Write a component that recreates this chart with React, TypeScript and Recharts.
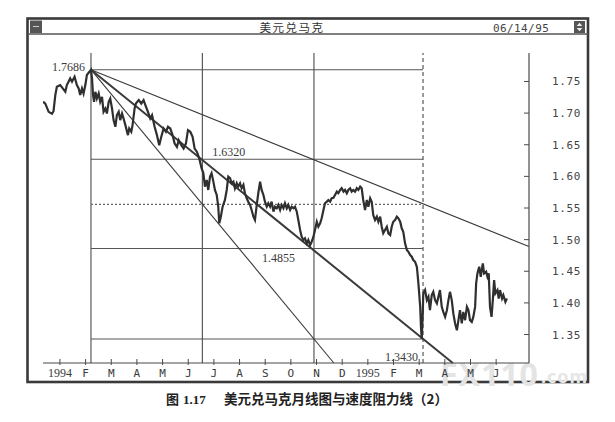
import React from 'react';
import { ComposedChart, Line, XAxis, YAxis, ReferenceLine, ReferenceDot } from 'recharts';

// x values are months counted from January 1994 (0 = Jan 1994, 12 = Jan 1995)
const MONTH_TICKS = [0, 1, 2, 3, 4, 5, 6, 7, 8, 9, 10, 11, 12, 13, 14, 15, 16, 17];
const MONTH_LABELS = ['1994', 'F', 'M', 'A', 'M', 'J', 'J', 'A', 'S', 'O', 'N', 'D', '1995', 'F', 'M', 'A', 'M', 'J'];
const RATE_TICKS = [1.35, 1.4, 1.45, 1.5, 1.55, 1.6, 1.65, 1.7, 1.75];
const X_DOMAIN: [number, number] = [-0.66, 18.28];
const Y_DOMAIN: [number, number] = [1.305, 1.795];

// USD/DEM daily trace [month, rate]
const DMK: [number, number][] = [
  [-0.66, 1.718], [-0.57, 1.715], [-0.44, 1.702], [-0.31, 1.699], [-0.25, 1.703], [-0.18, 1.7285],
  [-0.12, 1.7416], [0.01, 1.7443], [0.11, 1.739], [0.21, 1.7337], [0.27, 1.7443], [0.4, 1.7548],
  [0.47, 1.7496], [0.57, 1.7575], [0.66, 1.7443], [0.73, 1.739], [0.79, 1.7285], [0.86, 1.739],
  [0.92, 1.731], [0.99, 1.7443], [1.05, 1.7602], [1.21, 1.7686], [1.25, 1.7548], [1.29, 1.7285],
  [1.33, 1.7179], [1.38, 1.7337], [1.44, 1.7231], [1.51, 1.731], [1.57, 1.7179], [1.64, 1.7258],
  [1.7, 1.702], [1.77, 1.7073], [1.83, 1.6994], [1.9, 1.7179], [1.96, 1.7231], [2.03, 1.7073],
  [2.09, 1.6889], [2.16, 1.6783], [2.22, 1.6968], [2.29, 1.702], [2.35, 1.6889], [2.42, 1.6994],
  [2.48, 1.6914], [2.55, 1.681], [2.65, 1.6652], [2.7, 1.6756], [2.78, 1.6704], [2.83, 1.681],
  [2.91, 1.7073], [2.96, 1.7152], [3.07, 1.7206], [3.17, 1.7152], [3.26, 1.7206], [3.33, 1.7127],
  [3.43, 1.702], [3.52, 1.6914], [3.59, 1.6968], [3.69, 1.6783], [3.78, 1.6652], [3.87, 1.6493],
  [3.95, 1.6625], [4.04, 1.6756], [4.13, 1.6704], [4.21, 1.6783], [4.3, 1.6756], [4.39, 1.6652],
  [4.47, 1.6519], [4.56, 1.6466], [4.63, 1.6572], [4.73, 1.6493], [4.82, 1.6439], [4.91, 1.6519],
  [4.99, 1.6731], [5.08, 1.6704], [5.17, 1.6625], [5.25, 1.6439], [5.34, 1.6387], [5.43, 1.6281],
  [5.52, 1.6129], [5.59, 1.605], [5.65, 1.5838], [5.72, 1.5944], [5.78, 1.5785], [5.85, 1.5996],
  [5.91, 1.605], [5.98, 1.5917], [6.04, 1.5785], [6.11, 1.5706], [6.17, 1.5521], [6.21, 1.5258],
  [6.27, 1.5363], [6.34, 1.5521], [6.43, 1.5627], [6.5, 1.5785], [6.56, 1.5996], [6.63, 1.5971],
  [6.69, 1.5891], [6.76, 1.5917], [6.82, 1.5812], [6.89, 1.5891], [6.95, 1.5838], [7.02, 1.5891],
  [7.08, 1.5812], [7.15, 1.5865], [7.21, 1.5733], [7.28, 1.5654], [7.34, 1.56], [7.41, 1.5548],
  [7.47, 1.5469], [7.54, 1.5363], [7.6, 1.531], [7.67, 1.5548], [7.73, 1.5733], [7.8, 1.5917],
  [7.86, 1.5785], [7.93, 1.5706], [7.99, 1.56], [8.06, 1.5521], [8.12, 1.5575], [8.19, 1.5521],
  [8.25, 1.56], [8.32, 1.5442], [8.38, 1.5521], [8.45, 1.5496], [8.51, 1.5548], [8.58, 1.5469],
  [8.64, 1.5548], [8.71, 1.5496], [8.77, 1.5575], [8.84, 1.5496], [8.9, 1.5548], [8.97, 1.5469],
  [9.03, 1.5521], [9.1, 1.5496], [9.16, 1.5521], [9.23, 1.5442], [9.29, 1.531], [9.36, 1.5152],
  [9.42, 1.5046], [9.49, 1.4994], [9.55, 1.502], [9.62, 1.4941], [9.68, 1.4994], [9.75, 1.4914],
  [9.81, 1.4967], [9.88, 1.5046], [9.94, 1.5152], [10.01, 1.5283], [10.07, 1.5204], [10.14, 1.5258],
  [10.2, 1.5337], [10.27, 1.5469], [10.33, 1.5575], [10.4, 1.56], [10.46, 1.5627], [10.53, 1.56],
  [10.59, 1.5654], [10.66, 1.566], [10.72, 1.5706], [10.79, 1.5759], [10.85, 1.5733], [10.92, 1.5785],
  [10.98, 1.5812], [11.05, 1.5759], [11.11, 1.5785], [11.18, 1.5733], [11.24, 1.5785], [11.31, 1.5812],
  [11.37, 1.5759], [11.43, 1.5785], [11.5, 1.5759], [11.57, 1.5812], [11.63, 1.5785], [11.7, 1.5838],
  [11.76, 1.5812], [11.82, 1.5627], [11.89, 1.5469], [11.96, 1.5627], [12.02, 1.5521], [12.09, 1.5654],
  [12.15, 1.56], [12.21, 1.539], [12.28, 1.531], [12.35, 1.5363], [12.41, 1.5283], [12.48, 1.5363],
  [12.54, 1.5204], [12.6, 1.51], [12.67, 1.5152], [12.74, 1.5204], [12.8, 1.51], [12.87, 1.5073],
  [12.93, 1.5204], [12.99, 1.5283], [13.06, 1.531], [13.13, 1.5363], [13.19, 1.5337], [13.26, 1.5283],
  [13.32, 1.5179], [13.38, 1.5125], [13.45, 1.4941], [13.52, 1.4835], [13.58, 1.4808], [13.65, 1.4756],
  [13.71, 1.473], [13.77, 1.4677], [13.84, 1.465], [13.91, 1.4571], [13.97, 1.4308], [14.04, 1.3937],
  [14.07, 1.3621], [14.1, 1.343], [14.14, 1.3833], [14.16, 1.415], [14.23, 1.4202], [14.3, 1.4044],
  [14.36, 1.4096], [14.42, 1.3885], [14.49, 1.4123], [14.55, 1.4175], [14.62, 1.4044], [14.69, 1.3991],
  [14.75, 1.4096], [14.81, 1.4202], [14.88, 1.3937], [14.94, 1.3858], [15.01, 1.3779], [15.08, 1.3885],
  [15.14, 1.4044], [15.2, 1.4175], [15.27, 1.4044], [15.33, 1.3833], [15.4, 1.3675], [15.47, 1.3568],
  [15.53, 1.3727], [15.59, 1.3885], [15.66, 1.3675], [15.72, 1.3858], [15.79, 1.3727], [15.86, 1.3937],
  [15.92, 1.3885], [15.98, 1.3727], [16.05, 1.37], [16.11, 1.3779], [16.18, 1.3937], [16.22, 1.4308],
  [16.27, 1.4466], [16.34, 1.4571], [16.4, 1.4413], [16.48, 1.4625], [16.53, 1.4466], [16.61, 1.4492],
  [16.66, 1.4413], [16.71, 1.4466], [16.76, 1.3937], [16.82, 1.3779], [16.87, 1.4044], [16.92, 1.436],
  [16.97, 1.415], [17.05, 1.4202], [17.1, 1.407], [17.15, 1.4202], [17.23, 1.407], [17.28, 1.4123],
  [17.36, 1.4017], [17.42, 1.407],
];

// speed resistance construction
const HIGH_POINT = { m: 1.21, v: 1.7686 };
const TIME_DIVISIONS = [1.21, 5.55, 9.9, 14.15];
const LEVEL_START = 1.21;
const LEVEL_END = 14.15;
const PRICE_LEVELS = [1.7686, 1.627, 1.5558, 1.486, 1.343];
const SPEED_LINE_ENDS: [number, number][] = [[18.28, 1.489], [15.31, 1.305], [10.675, 1.305]];
const LEVEL_LABEL_POINTS: [number, number][] = [[1.21, 1.7686], [5.55, 1.627], [9.9, 1.486], [14.15, 1.343]];
const LEVEL_LABEL_TEXTS = ['1.7686', '1.6320', '1.4855', '1.3430'];

// styles (kept separate from data)
const LABEL_OFFSETS = [
  { dx: -6, dy: 1, anchor: 'end' },
  { dx: 10, dy: -3, anchor: 'start' },
  { dx: -19, dy: 14, anchor: 'end' },
  { dx: -5, dy: 22, anchor: 'end' },
];
const SPEED_LINE_WIDTHS = [1.1, 2, 1.1];

const MONO = '"DejaVu Sans Mono", "Liberation Mono", monospace';
const SERIF = '"Liberation Serif", "DejaVu Serif", serif';
const CJK = '"Noto Sans CJK SC", "Noto Sans", sans-serif';
const INK = '#3a3a3a';
const LINE = '#4a4a4a';

const priceData = DMK.map(([m, v]) => ({ m, v }));

function BottomTick(props: any) {
  const { x, y, payload } = props;
  const label = MONTH_LABELS[MONTH_TICKS.indexOf(payload.value)] ?? '';
  const isYear = label.length === 4;
  return (
    <g>
      <line x1={x} x2={x} y1={y - 4} y2={y + 2} stroke={LINE} strokeWidth={1} />
      <text
        x={x}
        y={y + 14}
        textAnchor="middle"
        fontFamily={isYear ? SERIF : MONO}
        fontSize={isYear ? 12 : 11}
        fill={INK}
      >
        {label}
      </text>
    </g>
  );
}

function TopTick(props: any) {
  const { x, y } = props;
  return <line x1={x} x2={x} y1={y} y2={y + 4} stroke={LINE} strokeWidth={1} />;
}

function RightTick(props: any) {
  const { x, y, payload } = props;
  return (
    <g>
      <line x1={x - 5} x2={x} y1={y} y2={y} stroke={LINE} strokeWidth={1} />
      <text x={x + 23} y={y + 4} textAnchor="start" fontFamily={MONO} fontSize={11} letterSpacing={0.6} fill="#444">
        {Number(payload.value).toFixed(2)}
      </text>
    </g>
  );
}

function LeftTick(props: any) {
  const { x, y } = props;
  return <line x1={x} x2={x + 5} y1={y} y2={y} stroke={LINE} strokeWidth={1} />;
}

function makeLevelLabel(text: string, off: { dx: number; dy: number; anchor: string }) {
  return (props: any) => {
    const vb = props.viewBox || {};
    const cx = (vb.x ?? 0) + (vb.width ?? 0) / 2;
    const cy = (vb.y ?? 0) + (vb.height ?? 0) / 2;
    return (
      <text x={cx + off.dx} y={cy + off.dy} textAnchor={off.anchor as any} fontFamily={SERIF} fontSize={12} fill={INK}>
        {text}
      </text>
    );
  };
}

export default function App() {
  return (
    <div style={{ position: 'absolute', left: 0, top: 0, width: 615, height: 422, background: '#fff', overflow: 'hidden' }}>
      <svg width={615} height={422} style={{ position: 'absolute', left: 0, top: 0 }}>
        <rect x={27.5} y={18.5} width={560.5} height={363.5} fill="#fff" stroke="#3a3a3a" strokeWidth={2.6} />
        <line x1={27.5} x2={588} y1={34} y2={34} stroke="#555" strokeWidth={1.3} />
        <rect x={30} y={20.5} width={12} height={12.5} fill="#555" />
        <line x1={33} x2={39} y1={26.5} y2={26.5} stroke="#ccc" strokeWidth={1} />
        <rect x={574} y={21} width={11} height={12} fill="#555" />
        <path d="M579.5 22.8 L582.3 26 L576.7 26 Z M579.5 31.2 L582.3 28 L576.7 28 Z" fill="#eee" />
        <text x={292} y={32} textAnchor="middle" fontFamily={CJK} fontSize={11.5} letterSpacing={1.5} fill="#333">
          美元兑马克
        </text>
        <text x={493} y={32} textAnchor="start" fontFamily={MONO} fontSize={11} letterSpacing={0.4} fill="#444">
          06/14/95
        </text>
        <text x={440} y={386} fontFamily='"Noto Sans", sans-serif' fontWeight="bold" fontSize={32} letterSpacing={1} fill="#e4e4e4">
          FX110
        </text>
        <text x={541} y={383} fontFamily='"Noto Sans", sans-serif' fontWeight="bold" fontSize={18} letterSpacing={1} fill="#e6e6e6">
          .com
        </text>
      </svg>

      <div style={{ position: 'absolute', left: 0, top: 0 }}>
        <ComposedChart width={615} height={422} data={priceData} margin={{ top: 53, right: 26, bottom: 34, left: 43 }}>
          <XAxis
            xAxisId="b"
            dataKey="m"
            type="number"
            domain={X_DOMAIN}
            allowDataOverflow
            ticks={MONTH_TICKS}
            interval={0}
            tick={<BottomTick />}
            tickLine={false}
            tickSize={0}
            tickMargin={0}
            axisLine={{ stroke: LINE, strokeWidth: 1.2 }}
            height={25}
          />
          <XAxis
            xAxisId="t"
            orientation="top"
            dataKey="m"
            type="number"
            domain={X_DOMAIN}
            allowDataOverflow
            ticks={MONTH_TICKS}
            interval={0}
            tick={<TopTick />}
            tickLine={false}
            tickSize={0}
            tickMargin={0}
            axisLine={{ stroke: LINE, strokeWidth: 1.2 }}
            height={0}
          />
          <YAxis
            yAxisId="r"
            orientation="right"
            type="number"
            domain={Y_DOMAIN}
            allowDataOverflow
            ticks={RATE_TICKS}
            interval={0}
            tick={<RightTick />}
            tickLine={false}
            tickSize={0}
            tickMargin={0}
            axisLine={{ stroke: LINE, strokeWidth: 1.2 }}
            width={60}
          />
          <YAxis
            yAxisId="l"
            orientation="left"
            type="number"
            domain={Y_DOMAIN}
            allowDataOverflow
            ticks={RATE_TICKS}
            interval={0}
            tick={<LeftTick />}
            tickLine={false}
            tickSize={0}
            tickMargin={0}
            axisLine={{ stroke: LINE, strokeWidth: 1.2 }}
            width={0}
          />

          {TIME_DIVISIONS.map((m, i) => (
            <ReferenceLine
              key={'v' + i}
              xAxisId="b"
              yAxisId="r"
              x={m}
              stroke={LINE}
              strokeWidth={1.1}
              strokeDasharray={i === TIME_DIVISIONS.length - 1 ? '4 3' : undefined}
              ifOverflow="visible"
            />
          ))}
          {PRICE_LEVELS.map((v, i) => (
            <ReferenceLine
              key={'h' + i}
              xAxisId="b"
              yAxisId="r"
              segment={[{ x: LEVEL_START, y: v }, { x: LEVEL_END, y: v }]}
              stroke={i === 2 ? '#666' : '#555'}
              strokeWidth={1.1}
              strokeDasharray={i === 2 ? '2 2' : undefined}
              ifOverflow="visible"
            />
          ))}
          {SPEED_LINE_ENDS.map(([m, v], i) => (
            <ReferenceLine
              key={'s' + i}
              xAxisId="b"
              yAxisId="r"
              segment={[{ x: HIGH_POINT.m, y: HIGH_POINT.v }, { x: m, y: v }]}
              stroke="#3a3a3a"
              strokeWidth={SPEED_LINE_WIDTHS[i]}
              ifOverflow="visible"
            />
          ))}

          <Line
            xAxisId="b"
            yAxisId="r"
            dataKey="v"
            type="linear"
            dot={false}
            stroke="#2f2f2f"
            strokeWidth={2.2}
            strokeLinejoin="miter"
            isAnimationActive={false}
          />

          {LEVEL_LABEL_POINTS.map(([m, v], i) => (
            <ReferenceDot
              key={'l' + i}
              xAxisId="b"
              yAxisId="r"
              x={m}
              y={v}
              r={0}
              fill="none"
              stroke="none"
              ifOverflow="visible"
              label={{ content: makeLevelLabel(LEVEL_LABEL_TEXTS[i], LABEL_OFFSETS[i]) }}
            />
          ))}
        </ComposedChart>
      </div>

      <svg width={615} height={422} style={{ position: 'absolute', left: 0, top: 0, pointerEvents: 'none' }}>
        <text x={166} y={404} fontFamily={CJK} fontWeight="bold" fontSize={13} fill="#222">
          图
          <tspan fontFamily={SERIF} dx={4}>1.17</tspan>
        </text>
        <text x={224} y={404} fontFamily={CJK} fontWeight="bold" fontSize={13.5} fill="#222">
          美元兑马克月线图与速度阻力线（2）
        </text>
      </svg>
    </div>
  );
}
